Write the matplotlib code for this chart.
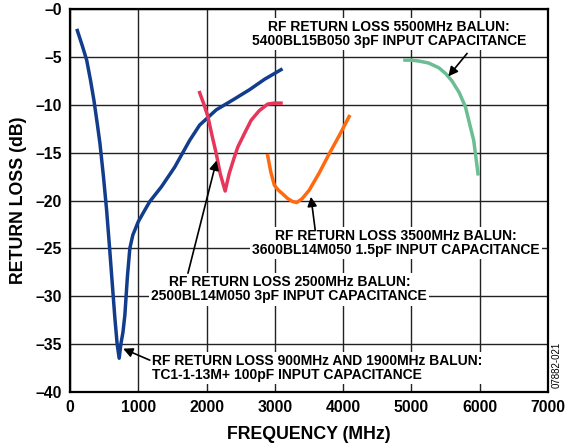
import matplotlib.pyplot as plt

plt.rcParams['font.family'] = ['Liberation Sans', 'DejaVu Sans']
plt.rcParams['font.weight'] = 'bold'

# 900/1900 MHz balun (TC1-1-13M+)
blueX = [107, 180, 244, 300, 350, 400, 438, 490, 536, 580, 620, 657, 690, 720,
         745, 775, 803, 840, 876, 920, 1000, 1095, 1168, 1339, 1533, 1752, 1898,
         2142, 2400, 2628, 2850, 3090]
blueY = [-2.2, -3.8, -5.3, -7.4, -9.5, -12.0, -14.0, -17.5, -21.0, -25.0, -28.8,
         -32.3, -35.0, -36.5, -35.0, -33.8, -32.0, -28.0, -25.0, -23.6, -22.2,
         -21.0, -20.1, -18.55, -16.5, -13.7, -12.1, -10.5, -9.4, -8.4, -7.3, -6.3]

# 2500 MHz balun
redX = [1898, 1960, 2019, 2080, 2142, 2200, 2272, 2330, 2400, 2457, 2560, 2652,
        2770, 2895, 2990, 3090]
redY = [-8.7, -9.9, -11.2, -13.2, -15.1, -17.2, -19.0, -17.2, -15.6, -14.4,
        -12.9, -11.6, -10.6, -9.9, -9.8, -9.8]

# 3500 MHz balun
orangeX = [2895, 2940, 2993, 3050, 3114, 3190, 3260, 3320, 3400, 3504, 3650,
           3796, 3950, 4088]
orangeY = [-15.3, -17.0, -18.4, -18.9, -19.3, -19.8, -20.1, -20.2, -19.8, -18.9,
           -17.1, -15.1, -13.1, -11.2]

# 5500 MHz balun
greenX = [4905, 5000, 5109, 5250, 5401, 5500, 5596, 5700, 5791, 5912, 5975]
greenY = [-5.3, -5.3, -5.4, -5.6, -6.1, -6.7, -7.5, -8.7, -10.2, -13.7, -17.2]

xTicks = [0, 1000, 2000, 3000, 4000, 5000, 6000, 7000]
yTicks = [0, -5, -10, -15, -20, -25, -30, -35, -40]

fig = plt.figure(figsize=(5.66, 4.45), dpi=100)
ax = fig.add_axes([0.1237, 0.1198, 0.8445, 0.8589])

lw = 2.5
ax.plot(blueX, blueY, color='#123C8C', linewidth=lw, zorder=3)
ax.plot(redX, redY, color='#E6365A', linewidth=lw, zorder=3)
ax.plot(orangeX, orangeY, color='#FF6A10', linewidth=lw, zorder=3)
ax.plot(greenX, greenY, color='#6BBE93', linewidth=lw, zorder=3)

ax.set_xlim(0, 7000)
ax.set_ylim(-40, 0)
ax.set_xticks(xTicks)
ax.set_yticks(yTicks)
ax.set_xticklabels([str(t) for t in xTicks], fontsize=11.3, fontweight='bold')
ax.set_yticklabels(['–' + str(abs(t)) for t in yTicks], fontsize=11.3, fontweight='bold')
ax.tick_params(length=0, pad=6)
ax.grid(True, color='#222222', linewidth=1.0, zorder=1)
ax.set_axisbelow(True)
for s in ax.spines.values():
    s.set_linewidth(1.6)

ax.set_xlabel('FREQUENCY (MHz)', fontsize=12.8, fontweight='bold', labelpad=8)
ax.set_ylabel('RETURN LOSS (dB)', fontsize=12.8, fontweight='bold', labelpad=6)

box = dict(facecolor='white', edgecolor='none', pad=1.5)
arrow = dict(arrowstyle='-|>', color='black', lw=1.2, mutation_scale=14,
             shrinkA=0, shrinkB=0)
fs = 10

ax.text(4672, -2.6, 'RF RETURN LOSS 5500MHz BALUN:\n5400BL15B050 3pF INPUT CAPACITANCE',
        ha='center', va='center', fontsize=fs, fontweight='bold',
        linespacing=1.0, bbox=box, zorder=4)
ax.annotate('', xy=(5540, -7.0), xytext=(5815, -4.6), arrowprops=arrow, zorder=5)

ax.text(4774, -24.45, 'RF RETURN LOSS 3500MHz BALUN:\n3600BL14M050 1.5pF INPUT CAPACITANCE',
        ha='center', va='center', fontsize=fs, fontweight='bold',
        linespacing=1.0, bbox=box, zorder=4)
ax.annotate('', xy=(3528, -19.6), xytext=(3591, -23.1), arrowprops=arrow, zorder=5)

ax.text(3212, -29.3, 'RF RETURN LOSS 2500MHz BALUN:\n2500BL14M050 3pF INPUT CAPACITANCE',
        ha='center', va='center', fontsize=fs, fontweight='bold',
        linespacing=1.0, bbox=box, zorder=4)
ax.annotate('', xy=(2146, -15.8), xytext=(1727, -27.6), arrowprops=arrow, zorder=5)

ax.text(1207, -37.5, 'RF RETURN LOSS 900MHz AND 1900MHz BALUN:\nTC1-1-13M+ 100pF INPUT CAPACITANCE',
        ha='left', va='center', fontsize=fs, fontweight='bold',
        linespacing=1.0, bbox=box, zorder=4)
ax.annotate('', xy=(778, -35.5), xytext=(1168, -36.7), arrowprops=arrow, zorder=5)

fig.text(0.984, 0.18, '07882-021', rotation=90, ha='center', va='center',
         fontsize=7, fontweight='normal')

fig.savefig('out.png', dpi=100)
